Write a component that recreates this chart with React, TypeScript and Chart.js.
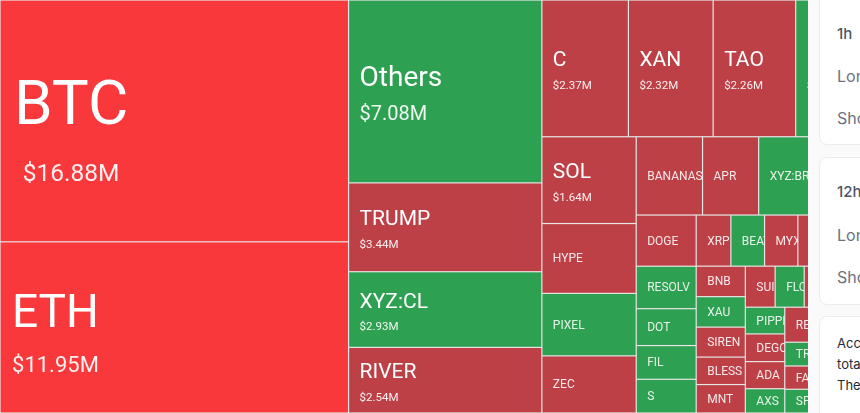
import React, { useEffect, useRef } from "react";
import { Chart, registerables, Plugin } from "chart.js";

Chart.register(...registerables);

// liquidation size in $M; "" = cell runs past the visible edge
const names = [
  "BTC", "ETH",
  "Others", "TRUMP", "XYZ:CL", "RIVER",
  "C", "XAN", "TAO", "BCH",
  "SOL", "HYPE", "PIXEL", "ZEC",
  "BANANAS", "APR", "XYZ:BRENTOIL", "", "",
  "DOGE", "RESOLV", "DOT", "FIL", "S",
  "XRP", "BEAT", "MYX", "", "",
  "BNB", "XAU", "SIREN", "BLESS", "MNT",
  "SUI", "FLOW", "", "",
  "PIPPIN", "DEGO", "ADA", "AXS",
  "RENDER", "",
  "TRX", "FARTCOIN", "SPX",
  "",
];
const values = [
  16.88, 11.95,
  7.08, 3.44, 2.93, 2.54,
  2.37, 2.32, 2.26, 2.2,
  1.64, 1.32, 1.18, 1.08,
  1.04, 0.88, 0.86, 0.5, 0.48,
  0.615, 0.51, 0.443, 0.405, 0.405,
  0.355, 0.345, 0.341, 0.33, 0.47,
  0.3, 0.3, 0.295, 0.27, 0.28,
  0.245, 0.239, 0.23, 0.36,
  0.211, 0.219, 0.214, 0.192,
  0.21, 0.43,
  0.162, 0.159, 0.162,
  0.81,
];
const sides = [
  "hot", "hot",
  "long", "short", "long", "short",
  "short", "short", "short", "long",
  "short", "short", "long", "short",
  "short", "short", "long", "short", "short",
  "short", "long", "long", "long", "long",
  "short", "long", "short", "short", "short",
  "short", "long", "short", "short", "short",
  "short", "long", "short", "short",
  "long", "short", "short", "long",
  "short", "short",
  "long", "short", "long",
  "short",
];
// how the squarified strips cut the remaining space
const stripSizes = [2, 4, 4, 4, 5, 5, 5, 5, 4, 4, 2, 3, 1];
const stripDirs = ["col", "col", "row", "col", "row", "col", "row", "col", "row", "col", "row", "col", "col"];

const colors: Record<string, string> = { hot: "#f8383b", short: "#be4047", long: "#2ea052" };
const total = values.reduce((a, b) => a + b, 0);

type Cell = { name: string; value: number; side: string; x0: number; x1: number; y0: number; y1: number };

// x runs 0..total and y 0..1, so a cell's area in axis units equals its value
function layoutCells() {
  const cells: Cell[] = [];
  let left = 0;
  let top = 0;
  let i = 0;
  stripSizes.forEach((size, s) => {
    const vals = values.slice(i, i + size);
    const sum = vals.reduce((a, b) => a + b, 0);
    if (stripDirs[s] === "col") {
      const w = sum / (1 - top);
      let y = top;
      vals.forEach((v, k) => {
        const h = v / w;
        cells.push({ name: names[i + k], value: v, side: sides[i + k], x0: left, x1: left + w, y0: y, y1: y + h });
        y += h;
      });
      left += w;
    } else {
      const h = sum / (total - left);
      let x = left;
      vals.forEach((v, k) => {
        const w = v / h;
        cells.push({ name: names[i + k], value: v, side: sides[i + k], x0: x, x1: x + w, y0: top, y1: top + h });
        x += w;
      });
      top += h;
    }
    i += size;
  });
  return cells;
}

function nameSize(v: number) {
  if (v > 15) return 62;
  if (v > 10) return 46;
  if (v > 5) return 28;
  if (v > 1.5) return 21;
  return 12;
}

function valueSize(v: number) {
  if (v > 15) return 24.5;
  if (v > 10) return 22;
  if (v > 5) return 20;
  return 11.5;
}

function labelPad(v: number) {
  if (v > 15) return 14;
  if (v > 10) return 12;
  return 11;
}

function nameShift(v: number) {
  if (v > 15) return 3.5;
  if (v > 10) return -0.5;
  if (v > 5) return -5;
  return -2;
}

const treemapCells: Plugin = {
  id: "treemapCells",
  beforeDatasetsDraw(chart) {
    const { ctx, scales } = chart;
    const cells = (chart.data.datasets[0] as any).cells as Cell[];
    ctx.save();
    cells.forEach((c) => {
      const l = scales.x.getPixelForValue(c.x0);
      const r = scales.x.getPixelForValue(c.x1);
      const t = scales.y.getPixelForValue(c.y0);
      const b = scales.y.getPixelForValue(c.y1);
      ctx.fillStyle = colors[c.side];
      ctx.fillRect(l + 0.6, t + 0.6, r - l - 1.2, b - t - 1.2);
      if (!c.name) return;

      ctx.save();
      ctx.beginPath();
      ctx.rect(l, t, r - l, b - t);
      ctx.clip();
      ctx.fillStyle = "#ffffff";
      const mid = (t + b) / 2;
      const ns = nameSize(c.value);
      if (c.value < 1.5) {
        ctx.font = ns + "px Roboto";
        ctx.textBaseline = "middle";
        ctx.globalAlpha = 0.88;
        ctx.fillText(c.name, l + 11, mid + 1);
      } else {
        const vs = valueSize(c.value);
        const label = "$" + c.value.toFixed(2) + "M";
        const pad = labelPad(c.value);
        ctx.font = vs + "px Roboto";
        const vw = ctx.measureText(label).width;
        ctx.font = ns + "px Roboto";
        const nw = ctx.measureText(c.name).width;
        // the two big ones centre their amount under the name
        const block = c.value > 10 ? Math.max(vw, nw) : 0;
        ctx.textBaseline = "alphabetic";
        const base = mid + nameShift(c.value);
        ctx.fillText(c.name, l + pad + (block ? (block - nw) / 2 : 0), base);
        ctx.font = vs + "px Roboto";
        ctx.globalAlpha = 0.92;
        ctx.fillText(label, l + pad + (block ? (block - vw) / 2 : 0), base + (ns + vs) * (c.value > 10 ? 0.66 : 0.69));
      }
      ctx.restore();
    });
    ctx.restore();
  },
};

function Card({ top, height, children }: { top: number; height: number; children: React.ReactNode }) {
  return (
    <div
      style={{
        position: "absolute",
        left: 819,
        top,
        width: 120,
        height,
        background: "#fff",
        border: "1px solid #ececec",
        borderRadius: 8,
        boxSizing: "border-box",
      }}
    >
      {children}
    </div>
  );
}

function Line({ y, color, weight, size, children }: { y: number; color: string; weight?: number; size?: number; children: string }) {
  return (
    <div
      style={{
        position: "absolute",
        left: 17,
        top: y,
        fontSize: size || 16,
        lineHeight: "20px",
        color,
        fontWeight: weight || 400,
        whiteSpace: "nowrap",
      }}
    >
      {children}
    </div>
  );
}

export default function App() {
  const chartRef = useRef<HTMLCanvasElement | null>(null);

  useEffect(() => {
    if (!chartRef.current) return;
    const cells = layoutCells();
    const chart = new Chart(chartRef.current, {
      type: "scatter",
      data: {
        datasets: [
          {
            label: "Liquidations",
            data: cells.map((c) => ({ x: (c.x0 + c.x1) / 2, y: (c.y0 + c.y1) / 2 })),
            pointRadius: 0,
            cells,
          } as any,
        ],
      },
      options: {
        animation: false,
        responsive: false,
        layout: { padding: 0 },
        plugins: { legend: { display: false }, tooltip: { enabled: false } },
        scales: {
          x: { display: false, min: 0, max: total },
          y: { display: false, min: 0, max: 1, reverse: true },
        },
      },
      plugins: [treemapCells],
    });
    return () => chart.destroy();
  }, []);

  return (
    <div
      style={{
        position: "fixed",
        left: 0,
        top: 0,
        width: 860,
        height: 413,
        overflow: "hidden",
        background: "#fafafa",
        fontFamily: "Inter, sans-serif",
      }}
    >
      <div style={{ position: "absolute", left: 0, top: 0, width: 808, height: 413, overflow: "hidden", background: "#e6e6e6" }}>
        <canvas ref={chartRef} width={876} height={413} />
      </div>
      <Card top={-10} height={155}>
        <Line y={33} color="#4b5563" weight={500} size={15}>1h</Line>
        <Line y={75} color="#6b7280">Long</Line>
        <Line y={117} color="#6b7280">Short</Line>
      </Card>
      <Card top={157} height={148}>
        <Line y={24} color="#4b5563" weight={500} size={15}>12h</Line>
        <Line y={67} color="#6b7280">Long</Line>
        <Line y={109} color="#6b7280">Short</Line>
      </Card>
      <Card top={316} height={120}>
        <Line y={16} color="#1f2937" size={13}>According</Line>
        <Line y={37} color="#1f2937" size={13}>total</Line>
        <Line y={58} color="#1f2937" size={13}>The</Line>
      </Card>
    </div>
  );
}
